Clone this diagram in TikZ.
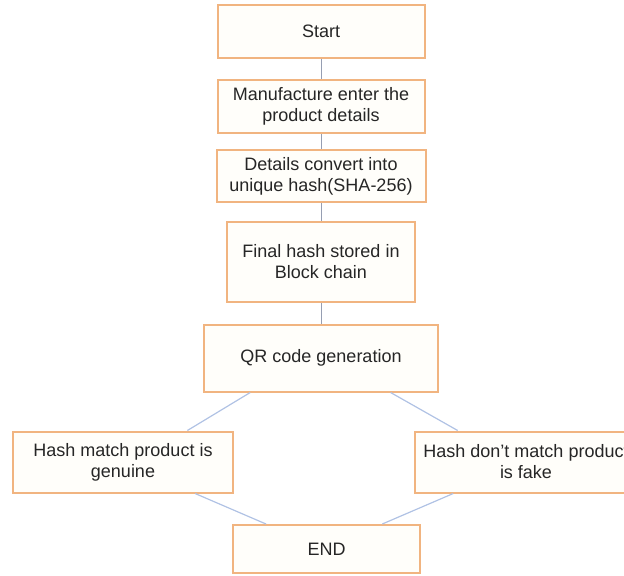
\documentclass[tikz,border=0pt]{standalone}
\usepackage{fontspec}
\setmainfont{Liberation Sans}
\usepackage{xcolor}
\usepackage{tikz}
\usetikzlibrary{calc}
\definecolor{boxline}{RGB}{241,180,128}
\definecolor{boxfill}{RGB}{255,254,250}
\definecolor{vline}{RGB}{150,158,178}
\definecolor{dline}{RGB}{176,194,228}
\tikzset{flowbox/.style={draw=boxline, fill=boxfill, line width=1pt, inner sep=0, align=center,
  text=black!85, font=\fontsize{9}{10.5}\selectfont}}

\begin{document}
\begin{tikzpicture} [x=0.5pt,y=-0.5pt]
\useasboundingbox (0,0) rectangle (624,575);
\node[flowbox, minimum width=103.5pt, minimum height=26.5pt] (start) at (321,31) {Start};
\node[flowbox, minimum width=103.5pt, minimum height=26.5pt] (manuf) at (321,106.5) {Manufacture enter the\\product details};
\node[flowbox, minimum width=104.5pt, minimum height=26pt] (details) at (321,176) {Details convert into\\unique hash(SHA-256)};
\node[flowbox, minimum width=94pt, minimum height=40pt] (final) at (321,262) {Final hash stored in\\Block chain};
\node[flowbox, minimum width=117pt, minimum height=33.5pt] (qr) at (321,358) {QR code generation};
\node[flowbox, minimum width=110pt, minimum height=30.5pt] (match) at (123,462) {Hash match product is\\genuine};
\node[flowbox, minimum width=111pt, minimum height=30.5pt] (fake) at (526,462) {Hash don't match product\\is fake};
\node[flowbox, minimum width=93.5pt, minimum height=24pt] (end) at (326.5,549) {END};
% main column
\draw[vline, line width=.5pt] (start) -- (manuf);
\draw[vline, line width=.5pt] (manuf) -- (details);
\draw[vline, line width=.5pt] (details) -- (final);
\draw[vline, line width=.5pt] (final) -- (qr);
% result branches
\draw[dline, line width=.6pt] ($(qr.south)!0.6!(qr.south west)$) -- ($(match.north)!0.58!(match.north east)$);
\draw[dline, line width=.6pt] ($(qr.south)!0.59!(qr.south east)$) -- ($(fake.north)!0.61!(fake.north west)$);
\draw[dline, line width=.6pt] ($(match.south)!0.65!(match.south east)$) -- ($(end.north)!0.64!(end.north west)$);
\draw[dline, line width=.6pt] ($(fake.south)!0.65!(fake.south west)$) -- ($(end.north)!0.59!(end.north east)$);
\end{tikzpicture}
\end{document}
